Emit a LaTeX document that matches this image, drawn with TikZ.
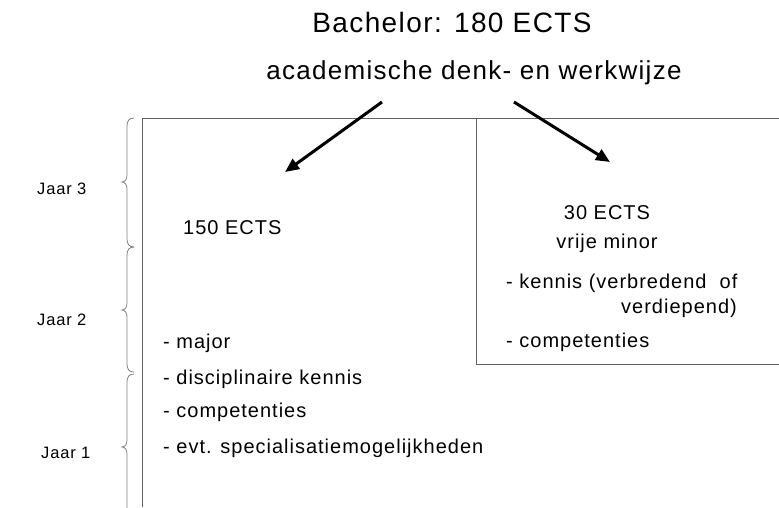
\documentclass[tikz,border=0pt]{standalone}
\usepackage{fontspec}
\setmainfont{Liberation Sans}[LetterSpace=5]
\usetikzlibrary{arrows.meta}
\newcommand\jaarbrace[3]{%
 \draw[bracec] (134,#1) .. controls (129,#1) and (127,{#1+3}) .. (127,{#1+8})
   -- (127,{#2-7}) .. controls (127,{#2-3}) and (125,#2) .. (122,#2)
   .. controls (125,#2) and (127,{#2+3}) .. (127,{#2+7})
   -- (127,{#3-8}) .. controls (127,{#3-3}) and (129,#3) .. (134,#3);}
\begin{document}
\begin{tikzpicture}[x=1pt,y=-1pt,
 txt/.style={inner sep=0pt, font=\fontsize{20}{24}\selectfont, text=black},
 jaar/.style={inner sep=0pt, font=\fontsize{16.5}{19}\selectfont, text=black},
 frame/.style={draw=black!62, line width=1pt},
 bracec/.style={draw=black!50, line width=0.8pt},
 bigarrow/.style={line width=3pt, -{Triangle[length=14pt,width=12pt]}},
]
\clip (0,0) rectangle (779,507);
\fill[white] (0,0) rectangle (779,507);
% frames
\draw[frame] (142,507) -- (142,118) -- (779,118);
\draw[frame] (476,118) -- (476,364) -- (779,364);
% braces
\jaarbrace{118}{182}{247}
\jaarbrace{247}{310}{372}
\jaarbrace{374}{447}{522}
% titles
\node[inner sep=0pt, anchor=base, font=\fontsize{28}{32}\selectfont] (title) at (452,32) {Bachelor: 180 ECTS};
\node[inner sep=0pt, anchor=base, font=\fontsize{26}{30}\selectfont] (sub) at (474,79) {academische denk- en werkwijze};
% arrows
\coordinate (la) at (382,102);
\coordinate (lb) at (285,172);
\coordinate (ra) at (514,102);
\coordinate (rb) at (610,162);
\draw[bigarrow] (la) -- (lb);
\draw[bigarrow] (ra) -- (rb);
% year labels
\node[jaar, anchor=base west] (j3) at (37,194) {Jaar 3};
\node[jaar, anchor=base west] (j2) at (37,325) {Jaar 2};
\node[jaar, anchor=base west] (j1) at (41,458) {Jaar 1};
% left block
\node[txt, anchor=base west] (e150) at (183,234) {150 ECTS};
\node[txt, anchor=base west] (l1) at (163,348) {- major};
\node[txt, anchor=base west] (l2) at (163,384) {- disciplinaire kennis};
\node[txt, anchor=base west] (l3) at (163,417) {- competenties};
\node[txt, anchor=base west] (l4) at (163,453) {- evt. specialisatiemogelijkheden};
% right block
\node[txt, anchor=base] (e30) at (607,219) {30 ECTS};
\node[txt, anchor=base] (minor) at (607,248) {vrije minor};
\node[txt, anchor=base west] (r1) at (506,288) {- kennis (verbredend~ of};
\node[txt, anchor=base east] (r1b) at (737,313) {verdiepend)};
\node[txt, anchor=base west] (r2) at (506,347) {- competenties};
\end{tikzpicture}
\end{document}
